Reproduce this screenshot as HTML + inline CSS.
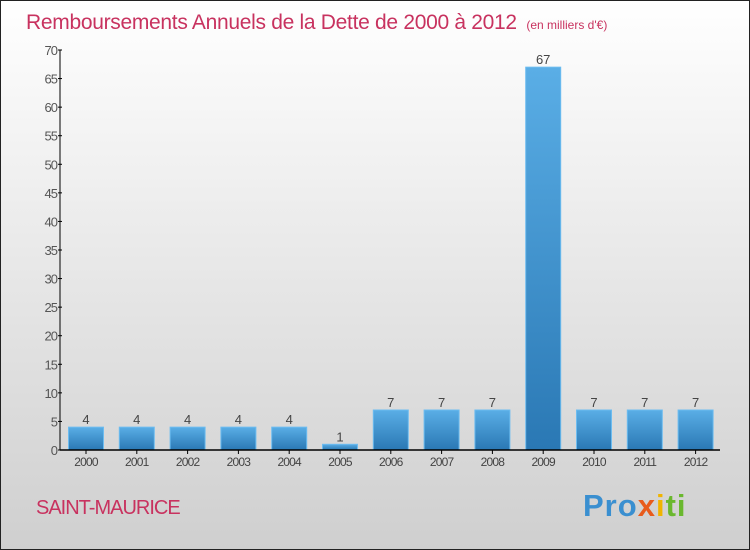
<!DOCTYPE html>
<html><head><meta charset="utf-8"><style>
body{margin:0}
#c{width:750px;height:550px;position:relative;overflow:hidden;font-family:"Liberation Sans",sans-serif}
</style></head><body>
<div id="c">
<svg width="750" height="550" xmlns="http://www.w3.org/2000/svg">
<defs>
<linearGradient id="bg" x1="0" y1="0" x2="0" y2="1"><stop offset="0" stop-color="#ffffff"/><stop offset="1" stop-color="#cfcfcf"/></linearGradient>
<linearGradient id="bar" x1="0" y1="0" x2="0" y2="1"><stop offset="0" stop-color="#5aaee6"/><stop offset="1" stop-color="#2a78b4"/></linearGradient>
</defs>
<rect x="0.5" y="0.5" width="749" height="549" fill="url(#bg)" stroke="#222"/>
<text x="26" y="29" font-size="21" fill="#c8325f" letter-spacing="-0.3">Remboursements Annuels de la Dette de 2000 à 2012 <tspan font-size="12" dx="4" letter-spacing="0">(en milliers d'€)</tspan></text>
<g id="yaxis"></g>
<g id="bars"></g>
<g id="xaxis"></g>
<text x="36" y="514" font-size="20" fill="#c8325f" letter-spacing="-1">SAINT-MAURICE</text>
<text x="583" y="516" font-size="31" font-weight="bold" letter-spacing="1"><tspan fill="#3a8fd0">Pro</tspan><tspan fill="#e85b1c">x</tspan><tspan fill="#f0b400">i</tspan><tspan fill="#6ab82e">ti</tspan></text>
</svg>
</div>
<script>
const categories=["2000","2001","2002","2003","2004","2005","2006","2007","2008","2009","2010","2011","2012"];
const values=[4,4,4,4,4,1,7,7,7,67,7,7,7];
const yTicks=[0,5,10,15,20,25,30,35,40,45,50,55,60,65,70];
const NS="http://www.w3.org/2000/svg";
const x0=60,x1=720,yBase=450,yTop=50,yMax=70;
const y=v=>yBase-(v/yMax)*(yBase-yTop);
const step=50.8,first=86;
const xc=i=>first+i*step;
function mk(t,a,p){const e=document.createElementNS(NS,t);for(const k in a)e.setAttribute(k,a[k]);p.appendChild(e);return e;}
const ya=document.getElementById('yaxis'),xa=document.getElementById('xaxis'),bg=document.getElementById('bars');
let l=mk('line',{x1:x0,y1:yTop,x2:x0,y2:yBase,stroke:'#000','stroke-width':1},ya);


yTicks.forEach(v=>{
 const t=mk('line',{x1:x0-2,x2:x0+2,y1:y(v),y2:y(v),stroke:'#000'},ya);
 
 
 const tx=mk('text',{x:x0-3,y:y(v)+5,'font-size':13,fill:'#555','text-anchor':'end','letter-spacing':'-1'},ya);
 tx.textContent=v;
 
 
});
categories.forEach((c,i)=>{
 const r=mk('rect',{x:xc(i)-17.5,y:y(values[i]),width:35,height:yBase-y(values[i]),fill:'url(#bar)',stroke:'#6cbcf0','stroke-width':1},bg);
 
 
 const vl=mk('text',{x:xc(i),y:y(values[i])-3,'font-size':13,fill:'#444','text-anchor':'middle'},bg);
 vl.textContent=values[i];
 
 
 const tk=mk('line',{x1:xc(i),x2:xc(i),y1:yBase,y2:yBase+4,stroke:'#000'},xa);
 
 
 const xl=mk('text',{x:xc(i),y:yBase+16,'font-size':12,fill:'#444','text-anchor':'middle','letter-spacing':'-0.8'},xa);
 xl.textContent=c;
 
 
});
const xl2=mk('line',{x1:x0,y1:yBase,x2:x1,y2:yBase,stroke:'#000','stroke-width':1.5},xa);


</script>
</body></html>
